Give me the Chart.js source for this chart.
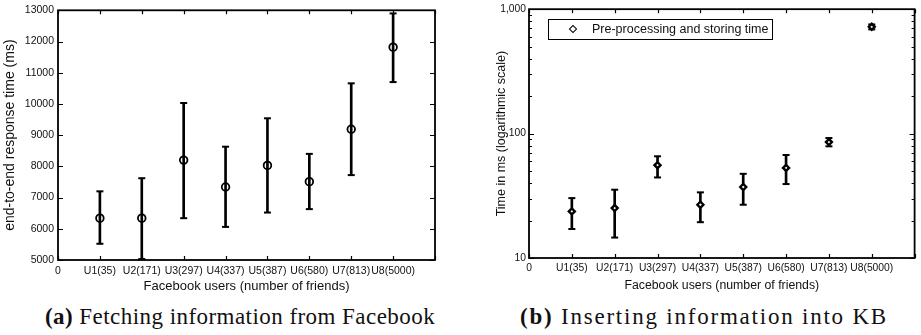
<!DOCTYPE html>
<html>
<head>
<meta charset="utf-8">
<script src="https://cdn.jsdelivr.net/npm/chart.js@4.4.1/dist/chart.umd.min.js"></script>
<style>
  body{margin:0;background:#fff;width:921px;height:335px;position:relative;overflow:hidden}
  .plot{position:absolute;top:0}
  .caption{position:absolute;top:306px;font-family:"Liberation Serif","Times New Roman",serif;font-size:23px;line-height:22px;color:#111;white-space:nowrap}
  .legend{position:absolute;left:548px;top:19px;width:225px;height:21px;box-sizing:border-box;border:1.5px solid #000;
    font-family:"Liberation Sans",Arial,sans-serif;font-size:12.5px;line-height:18px;color:#111}
  .legend .mark{position:absolute;left:21px;top:6px;width:4px;height:4px;border:1.2px solid #000;transform:rotate(45deg);background:#fff}
  .legend .text{position:absolute;left:43px;top:0}
</style>
</head>
<body>
<canvas id="fetchChart" class="plot" width="460" height="300" style="left:0"></canvas>
<canvas id="insertChart" class="plot" width="461" height="300" style="left:460px"></canvas>
<div class="legend"><span class="mark"></span><span class="text">Pre-processing and storing time</span></div>
<div class="caption" data-width="390" style="left:45px"><b>(a)</b> Fetching information from Facebook</div>
<div class="caption" data-width="368" style="left:520px"><b>(b)</b> Inserting information into KB</div>
<script>
// x positions: 0 .. 9, users sit on 1..8
const X_LABELS = ["0", "U1(35)", "U2(171)", "U3(297)", "U4(337)", "U5(387)", "U6(580)", "U7(813)", "U8(5000)", ""];

// (a) end-to-end response time, ms
const FETCH_MEAN = [6340, 6340, 8200, 7340, 8030, 7510, 9190, 11820];
const FETCH_LOW  = [5520, 5030, 6340, 6060, 6520, 6630, 7720, 10700];
const FETCH_HIGH = [7200, 7620, 10030, 8630, 9540, 8400, 10660, 12900];
const FETCH_Y_TICKS = [5000, 6000, 7000, 8000, 9000, 10000, 11000, 12000, 13000];

// (b) pre-processing and storing time, ms (log)
const INSERT_MEAN = [23.7, 25.2, 55.7, 26.8, 37.2, 53.0, 85.5, 722];
const INSERT_LOW  = [17.1, 14.6, 44.4, 19.4, 26.8, 39.3, 79.0, 688];
const INSERT_HIGH = [30.3, 35.4, 65.7, 33.7, 47.5, 67.3, 92.1, 754];
const INSERT_Y_TICKS = [10, 20, 30, 40, 50, 60, 70, 80, 90, 100, 200, 300, 400, 500, 600, 700, 800, 900, 1000];
const INSERT_Y_LABELS = { 10: "10", 100: "100", 1000: "1,000" };

Chart.defaults.font.family = '"Liberation Sans", Arial, sans-serif';
Chart.defaults.color = "#111";

// stretch captions to the width they take in the paper
document.querySelectorAll(".caption").forEach((el) => {
  const target = Number(el.dataset.width);
  const n = el.textContent.length;
  const w = el.getBoundingClientRect().width;
  el.style.letterSpacing = ((target - w) / n).toFixed(2) + "px";
});

// matlab-ish box with inward ticks on all four sides
const framePlugin = {
  id: "frame",
  afterDatasetsDraw(chart){
    const { ctx, chartArea: { left, right, top, bottom } } = chart;
    const xs = chart.scales.x, ys = chart.scales.y;
    ctx.save();
    ctx.strokeStyle = "#000";
    ctx.lineWidth = 1.2;
    ctx.beginPath();
    xs.ticks.forEach((t) => {
      const px = Math.round(xs.getPixelForValue(t.value)) + 0.5;
      ctx.moveTo(px, bottom); ctx.lineTo(px, bottom - 4);
      ctx.moveTo(px, top);    ctx.lineTo(px, top + 4);
    });
    ys.ticks.forEach((t) => {
      const py = Math.round(ys.getPixelForValue(t.value)) + 0.5;
      const len = t.label ? 5 : 3;
      ctx.moveTo(left, py);  ctx.lineTo(left + len, py);
      ctx.moveTo(right, py); ctx.lineTo(right - len, py);
    });
    ctx.stroke();
    ctx.lineWidth = 1.8;
    ctx.strokeRect(left, top, right - left, bottom - top);
    ctx.restore();
  }
};

function errorDatasets(mean, low, high, marker){
  const pts = (arr) => arr.map((v, i) => ({ x: i + 1, y: v }));
  return [
    {
      type: "scatter",
      data: pts(mean),
      pointStyle: marker.style,
      pointRadius: marker.radius,
      borderWidth: marker.width,
      borderColor: "#000",
      backgroundColor: marker.fill,
      order: 0
    },
    {
      type: "scatter",
      data: pts(high).concat(pts(low)),
      pointStyle: "line",
      pointRadius: 3.5,
      borderWidth: 2,
      borderColor: "#000",
      order: 1
    },
    {
      type: "bar",
      data: low.map((lo, i) => ({ x: i + 1, y: [lo, high[i]] })),
      backgroundColor: "#000",
      borderWidth: 0,
      barThickness: 2,
      order: 2
    }
  ];
}

function makeChart(id, cfg){
  return new Chart(document.getElementById(id), {
    type: "scatter",
    data: { datasets: errorDatasets(cfg.mean, cfg.low, cfg.high, cfg.marker) },
    options: {
      responsive: false,
      animation: false,
      events: [],
      clip: false,
      layout: { padding: { top: 7, right: cfg.padRight, left: 0, bottom: 0 } },
      plugins: { legend: { display: false }, tooltip: { enabled: false } },
      scales: {
        x: {
          type: "linear",
          min: 0,
          max: 9,
          offset: false,
          grid: { display: false, drawTicks: false },
          border: { display: false },
          afterBuildTicks: (s) => { s.ticks = X_LABELS.map((_, i) => ({ value: i })); },
          afterFit: (s) => { s.height = cfg.xHeight; },
          ticks: {
            autoSkip: false,
            maxRotation: 0,
            padding: cfg.xTickPad,
            font: { size: cfg.tickSize },
            color: "#111",
            callback: (v) => X_LABELS[v]
          },
          title: {
            display: true,
            text: "Facebook users (number of friends)",
            font: { size: cfg.xTitleSize },
            color: "#111",
            padding: { top: 0, bottom: cfg.xTitlePad }
          }
        },
        y: {
          type: cfg.yType,
          min: cfg.yMin,
          max: cfg.yMax,
          grid: { display: false, drawTicks: false },
          border: { display: false },
          afterBuildTicks: (s) => { s.ticks = cfg.yTicks.map((v) => ({ value: v })); },
          afterFit: (s) => { s.width = cfg.yWidth; },
          ticks: {
            autoSkip: false,
            padding: cfg.yTickPad,
            font: { size: cfg.tickSize },
            color: "#111",
            callback: cfg.yLabel
          },
          title: {
            display: true,
            text: cfg.yTitle,
            font: { size: cfg.yTitleSize },
            color: "#111",
            padding: { top: cfg.yTitlePad, bottom: 0 }
          }
        }
      }
    },
    plugins: [framePlugin]
  });
}

makeChart("fetchChart", {
  mean: FETCH_MEAN, low: FETCH_LOW, high: FETCH_HIGH,
  marker: { style: "circle", radius: 3.8, width: 1.8, fill: "rgba(0,0,0,0)" },
  padRight: 25, xHeight: 40, yWidth: 58,
  tickSize: 10.5, xTickPad: 5, yTickPad: 4,
  xTitleSize: 13, xTitlePad: 5.5,
  yType: "linear", yMin: 5000, yMax: 13000, yTicks: FETCH_Y_TICKS,
  yLabel: (v) => String(v),
  yTitle: "end-to-end response time (ms)", yTitleSize: 14, yTitlePad: 1.5
});

makeChart("insertChart", {
  mean: INSERT_MEAN, low: INSERT_LOW, high: INSERT_HIGH,
  marker: { style: "rectRot", radius: 3, width: 2.4, fill: "#fff" },
  padRight: 4, xHeight: 42, yWidth: 69,
  tickSize: 10.3, xTickPad: 4, yTickPad: 3,
  xTitleSize: 12.3, xTitlePad: 7.5,
  yType: "logarithmic", yMin: 10, yMax: 1000, yTicks: INSERT_Y_TICKS,
  yLabel: (v) => INSERT_Y_LABELS[v] ?? "",
  yTitle: "Time in ms (logarithmic scale)", yTitleSize: 12.5, yTitlePad: 34
});
</script>
</body>
</html>
